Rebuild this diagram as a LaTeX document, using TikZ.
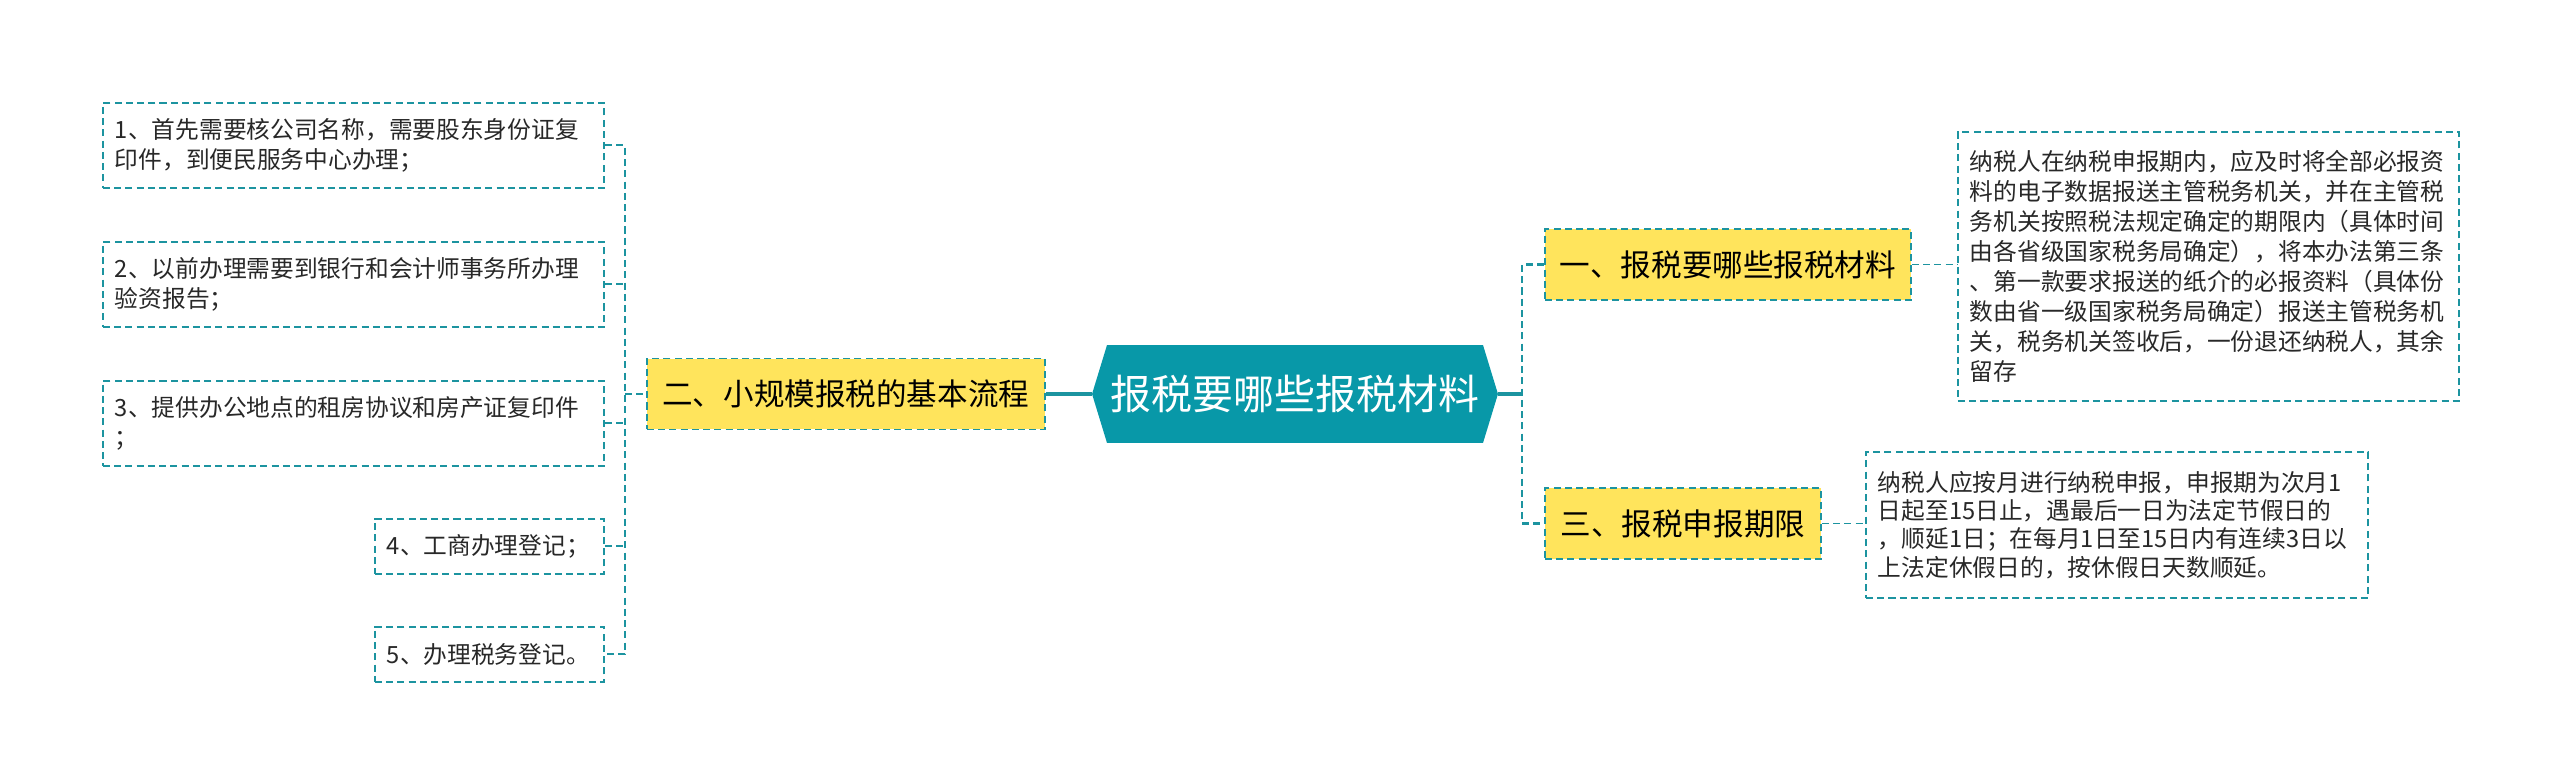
\documentclass[tikz,border=0pt]{standalone}
\usepackage{fontspec}
\usepackage{xcolor}
\usepackage{tikz}
\usetikzlibrary{shapes.symbols, positioning}
\newfontfamily\cjk{Noto Sans CJK SC}
\definecolor{lineteal}{RGB}{28,148,160}
\definecolor{rootteal}{RGB}{8,152,168}
\definecolor{hdryellow}{RGB}{255,228,92}
\definecolor{txtdark}{RGB}{40,40,40}
\tikzset{
  leaf/.style={rectangle, draw=lineteal, fill=white, line width=1.1pt,
    dash pattern=on 4pt off 2.4pt, text width=#1, align=left,
    inner xsep=0.24cm, inner ysep=0pt, text=txtdark,
    font=\cjk\fontsize{13.5}{17.1}\selectfont},
  branch/.style={rectangle, draw=lineteal, fill=hdryellow, line width=1.1pt,
    dash pattern=on 4pt off 2.4pt, minimum width=#1, minimum height=1.42cm,
    align=center, inner sep=0pt, text=black,
    font=\cjk\fontsize{17.4}{20}\selectfont},
  rootnode/.style={signal, signal to=west and east, signal pointer angle=146,
    fill=rootteal, minimum width=8.12cm, minimum height=1.96cm,
    inner sep=0pt, text=white, font=\cjk\fontsize{23.3}{26}\selectfont},
  link/.style={draw=lineteal, line width=1.1pt, dash pattern=on 4pt off 2.4pt},
  mainlink/.style={draw=lineteal, line width=1.6pt, dash pattern=on 4pt off 2.4pt},
  trunk/.style={draw=lineteal, line width=1.8pt}
}

\begin{document}
\begin{tikzpicture}[x=0.02cm, y=-0.02cm]
  \fill[white] (0,0) rectangle (2560,774);
  \useasboundingbox (0,0) rectangle (2560,774);

  \node[rootnode] (root) at (1295,394) {报税要哪些报税材料};
  \node[branch=7.96cm, left=0.92cm of root] (flow) {二、小规模报税的基本流程};
  \node[branch=7.32cm, anchor=west] (material) at (1544,264.5) {一、报税要哪些报税材料};
  \node[branch=5.52cm, anchor=west] (deadline) at (1544,523.5) {三、报税申报期限};

  \node[leaf=9.54cm, minimum height=1.7cm, anchor=north west] (item1) at (102,102)
    {1、首先需要核公司名称，需要股东身份证复\\印件，到便民服务中心办理；};
  \node[leaf=9.54cm, minimum height=1.7cm, below=1.04cm of item1] (item2)
    {2、以前办理需要到银行和会计师事务所办理\\验资报告；};
  \node[leaf=9.54cm, minimum height=1.7cm, below=1.04cm of item2] (item3)
    {3、提供办公地点的租房协议和房产证复印件\\；};
  \node[leaf=4.10cm, minimum height=1.1cm, below=1.02cm of item3.south east, anchor=north east] (item4)
    {4、工商办理登记；};
  \node[leaf=4.10cm, minimum height=1.1cm, below=1.02cm of item4] (item5)
    {5、办理税务登记。};

  \node[leaf=9.54cm, minimum height=5.38cm, anchor=north west] (materialtxt) at (1957,131)
    {纳税人在纳税申报期内，应及时将全部必报资\\料的电子数据报送主管税务机关，并在主管税\\务机关按照税法规定确定的期限内（具体时间\\由各省级国家税务局确定），将本办法第三条\\、第一款要求报送的纸介的必报资料（具体份\\数由省一级国家税务局确定）报送主管税务机\\关，税务机关签收后，一份退还纳税人，其余\\留存};
  \node[leaf=9.56cm, minimum height=2.92cm, anchor=north west,
    font=\cjk\fontsize{13.5}{16.2}\selectfont] (deadlinetxt) at (1865,451)
    {纳税人应按月进行纳税申报，申报期为次月1\\日起至15日止，遇最后一日为法定节假日的\\，顺延1日；在每月1日至15日内有连续3日以\\上法定休假日的，按休假日天数顺延。};

  \coordinate (lbus) at (625,394);
  \coordinate (rbus) at (1522,394);
  \draw[link] (item1.east) -| (lbus) |- (item5.east);
  \foreach \i in {2,3,4}
    \draw[link] (item\i.east) -- (item\i.east -| lbus);
  \draw[link] (lbus) -- (flow.west);
  \draw[trunk] (flow.east) -- (root.west);
  \draw[trunk] (root.east) -- (rbus);
  \draw[mainlink] (material.west) -| (rbus) |- (deadline.west);
  \draw[link] (material.east) -- (material.east -| materialtxt.west);
  \draw[link] (deadline.east) -- (deadline.east -| deadlinetxt.west);
\end{tikzpicture}
\end{document}
